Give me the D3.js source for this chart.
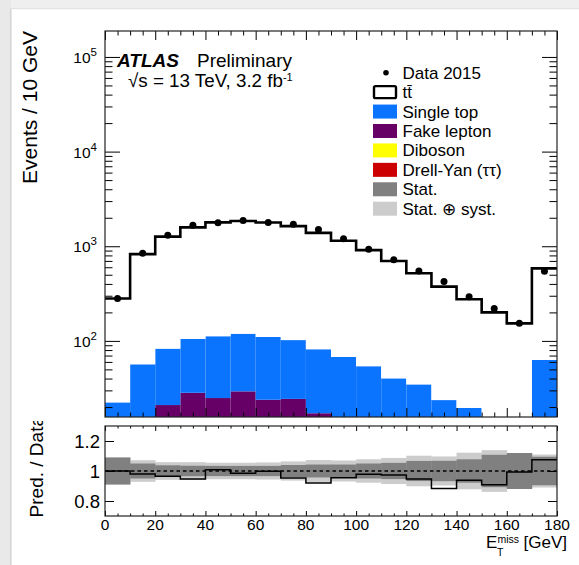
<!DOCTYPE html>
<html><head><meta charset="utf-8">
<script src="https://cdn.jsdelivr.net/npm/d3@7/dist/d3.min.js"></script>
<style>
body{margin:0;background:#fff}
svg{display:block}
text{font-family:"Liberation Sans",Arial,Helvetica,sans-serif;fill:#000}
</style>
</head><body>
<svg id="c" width="579" height="565"></svg>
<script>
// ---- data ----
const binEdges = [0,10,20,30,40,50,60,70,80,90,100,110,120,130,140,150,160,170,180];
const data2015 = [280,843,1309,1670,1771,1873,1783,1711,1503,1197,930,718,548,423,293,220,154,543];
const ttbar    = [257.6,769.4,1180.2,1476,1675,1726,1669,1529,1301.4,1076.4,856,658.8,484.3,350.3,255.4,188,143,521];
const singleTop= [12.4,44.6,61.8,76.7,87.1,89.7,86.1,77.6,64.4,55.6,45,33.2,29.7,19.7,16.6,10,8,55];
const fakeLepton=[6.5,8.0,17.0,24.3,21.1,25.6,20.5,21.3,14.4,9.5,6.7,5.0,3.2,2.5,1.7,0.9,1.0,4.2];
const diboson  = [2.0,2.5,2.8,3.0,3.0,3.0,2.8,2.6,2.4,2.2,2.0,1.8,1.6,1.4,1.2,1.0,0.9,3.5];
const drellYan = [1.5,1.5,1.2,1.0,0.8,0.7,0.6,0.5,0.4,0.3,0.3,0.2,0.2,0.1,0.1,0.1,0.1,0.3];
const statErr  = [0.09,0.05,0.038,0.035,0.034,0.034,0.034,0.04,0.043,0.043,0.05,0.054,0.067,0.068,0.078,0.108,0.12,0.095];
const totErr   = [0.09,0.072,0.059,0.059,0.055,0.055,0.057,0.064,0.073,0.07,0.078,0.087,0.102,0.097,0.122,0.139,0.12,0.11];
const logTicks = [100,1000,10000,100000];
const logTickExp = ["2","3","4","5"];
const xTicks = [0,20,40,60,80,100,120,140,160,180];
const ratioTicks = [0.8,1,1.2];
const ratioTickLabels = ["0.8","1","1.2"];

const legendItems = [
  {label:"Data 2015", type:"dot"},
  {label:"tt\u0304", type:"tt"},
  {label:"Single top", color:"#0a74ff"},
  {label:"Fake lepton", color:"#660066"},
  {label:"Diboson", color:"#ffff00"},
  {label:"Drell-Yan (\u03c4\u03c4)", color:"#cc0000"},
  {label:"Stat.", color:"#808080"},
  {label:"Stat. \u2295 syst.", color:"#cccccc"}
];
const stackKeys = ["dy","diboson","fake","single","ttbar"];
const stackColors = {dy:"#cc0000",diboson:"#ffff00",fake:"#660066",single:"#0a74ff",ttbar:"#ffffff"};

// ---- layout ----
const L=105, R=557, T=31, B=417, RT=426, RB=516;
const svg = d3.select("#c");

// shadow frame
svg.append("rect").attr("x",0).attr("y",0).attr("width",579).attr("height",9).attr("fill","#efefef");
svg.append("rect").attr("x",0).attr("y",0).attr("width",11).attr("height",565).attr("fill","#e9e9e9");
svg.append("rect").attr("x",10).attr("y",9).attr("width",1.5).attr("height",556).attr("fill","#d4d4d4");
svg.append("rect").attr("x",10).attr("y",8).attr("width",569).attr("height",1.2).attr("fill","#e2e2e2");

const x = d3.scaleLinear().domain([0,180]).range([L,R]);
const y = d3.scaleLog().domain([15.7,1.88e5]).range([B,T]);
const yr = d3.scaleLinear().domain([0.7,1.3]).range([RB,RT]);

const defs = svg.append("defs");
defs.append("clipPath").attr("id","clipMain").append("rect").attr("x",L).attr("y",T).attr("width",R-L).attr("height",B-T);
defs.append("clipPath").attr("id","clipRatio").append("rect").attr("x",L).attr("y",RT).attr("width",R-L).attr("height",RB-RT);
defs.append("clipPath").attr("id","clipRatioLabel").append("rect").attr("x",0).attr("y",421).attr("width",100).attr("height",144);

// ---- stack ----
const rows = binEdges.slice(0,-1).map((lo,i)=>({lo, hi:binEdges[i+1], dy:drellYan[i], diboson:diboson[i], fake:fakeLepton[i], single:singleTop[i], ttbar:ttbar[i]}));
const series = d3.stack().keys(stackKeys)(rows);
const gMain = svg.append("g").attr("clip-path","url(#clipMain)");
const ymin = y.domain()[0];
series.forEach(s=>{
  gMain.append("g").selectAll("rect").data(s).join("rect")
    .attr("x",d=>x(d.data.lo)).attr("width",d=>x(d.data.hi)-x(d.data.lo))
    .attr("y",d=>y(Math.max(d[1],ymin*0.5)))
    .attr("height",d=>Math.max(0, y(Math.max(d[0],ymin*0.5)) - y(Math.max(d[1],ymin*0.5))))
    .attr("fill",stackColors[s.key]);
});
const totals = rows.map(r=>stackKeys.reduce((a,k)=>a+r[k],0));
const stepPts = binEdges.map((e,i)=>[e, totals[Math.min(i,totals.length-1)]]);
gMain.append("path").datum(stepPts)
  .attr("d", d3.line().x(d=>x(d[0])).y(d=>y(d[1])).curve(d3.curveStepAfter))
  .attr("fill","none").attr("stroke","#000").attr("stroke-width",2.6);
gMain.append("g").selectAll("circle").data(data2015).join("circle")
  .attr("cx",(d,i)=>x((binEdges[i]+binEdges[i+1])/2)).attr("cy",d=>y(d)).attr("r",3.5).attr("fill","#000");

// ---- main axes ----
function minorLog(){
  const out=[];
  for(let d=1; d<=5; d++) for(let m=1;m<=9;m++){const v=m*Math.pow(10,d); if(v>=y.domain()[0]&&v<=y.domain()[1]) out.push(v);}
  return out;
}
const minorY = minorLog().filter(v=>!logTicks.includes(v));
const xMinor = d3.range(0,181,5).filter(v=>!xTicks.includes(v));
function tickAxis(g, gen){ g.call(gen); g.select(".domain").remove(); g.selectAll("text").remove(); g.selectAll("line").attr("stroke","#000").attr("stroke-width",1); }
const ax = svg.append("g");
tickAxis(ax.append("g").attr("transform",`translate(${L},0)`), d3.axisLeft(y).tickValues(logTicks).tickSize(-15));
tickAxis(ax.append("g").attr("transform",`translate(${L},0)`), d3.axisLeft(y).tickValues(minorY).tickSize(-7.5));
tickAxis(ax.append("g").attr("transform",`translate(${R},0)`), d3.axisRight(y).tickValues(logTicks).tickSize(-15));
tickAxis(ax.append("g").attr("transform",`translate(${R},0)`), d3.axisRight(y).tickValues(minorY).tickSize(-7.5));
tickAxis(ax.append("g").attr("transform",`translate(0,${B})`), d3.axisBottom(x).tickValues(xTicks).tickSize(-9));
tickAxis(ax.append("g").attr("transform",`translate(0,${B})`), d3.axisBottom(x).tickValues(xMinor).tickSize(-4.5));
tickAxis(ax.append("g").attr("transform",`translate(0,${T})`), d3.axisTop(x).tickValues(xTicks).tickSize(-9));
tickAxis(ax.append("g").attr("transform",`translate(0,${T})`), d3.axisTop(x).tickValues(xMinor).tickSize(-4.5));
svg.append("rect").attr("x",L).attr("y",T).attr("width",R-L).attr("height",B-T).attr("fill","none").attr("stroke","#222").attr("stroke-width",1.2);

logTicks.forEach((v,i)=>{
  const t = svg.append("text").attr("x",97).attr("y",y(v)+6).attr("text-anchor","end").attr("font-size",15.5);
  t.append("tspan").text("10");
  t.append("tspan").attr("dy",-7).attr("font-size",11.5).text(logTickExp[i]);
});
svg.append("text").attr("transform",`translate(36.5,${T}) rotate(-90)`).attr("text-anchor","end").attr("font-size",21).text("Events / 10 GeV");

// ATLAS label
const at = svg.append("text").attr("x",117).attr("y",67).attr("font-size",19);
at.append("tspan").attr("font-weight","bold").attr("font-style","italic").text("ATLAS");
at.append("tspan").attr("x",197).text("Preliminary");
const en = svg.append("text").attr("x",128).attr("y",86.5).attr("font-size",18.8);
en.append("tspan").text("\u221As = 13 TeV, 3.2 fb");
en.append("tspan").attr("dy",-5.5).attr("font-size",11).text("-1");

// legend
const lg = svg.append("g");
legendItems.forEach((d,i)=>{
  const cy = 72.7 + i*19.43;
  if(d.type==="dot"){
    lg.append("circle").attr("cx",386).attr("cy",cy).attr("r",2.8).attr("fill","#000");
  } else if(d.type==="tt"){
    lg.append("rect").attr("x",374).attr("y",cy-6).attr("width",22).attr("height",12).attr("fill","#fff").attr("stroke","#000").attr("stroke-width",2.4).attr("rx",1.5);
  } else {
    lg.append("rect").attr("x",373).attr("y",cy-7).attr("width",24).attr("height",14).attr("fill",d.color);
  }
  lg.append("text").attr("x",402.5).attr("y",cy+6).attr("font-size",17).text(d.label);
});

// ---- ratio panel ----
const gR = svg.append("g").attr("clip-path","url(#clipRatio)");
const bins = rows.map((r,i)=>({lo:r.lo,hi:r.hi,stat:statErr[i],tot:totErr[i],ratio:totals[i]/data2015[i]}));
gR.append("g").selectAll("rect").data(bins).join("rect")
  .attr("x",d=>x(d.lo)).attr("width",d=>x(d.hi)-x(d.lo)+0.3)
  .attr("y",d=>yr(1+d.tot)).attr("height",d=>yr(1-d.tot)-yr(1+d.tot)).attr("fill","#cccccc");
gR.append("g").selectAll("rect").data(bins).join("rect")
  .attr("x",d=>x(d.lo)).attr("width",d=>x(d.hi)-x(d.lo)+0.3)
  .attr("y",d=>yr(1+d.stat)).attr("height",d=>yr(1-d.stat)-yr(1+d.stat)).attr("fill","#808080");
gR.append("line").attr("x1",L).attr("x2",R).attr("y1",yr(1)).attr("y2",yr(1))
  .attr("stroke","#000").attr("stroke-width",1.4).attr("stroke-dasharray","3.5,3");
const rPts = binEdges.map((e,i)=>[e, bins[Math.min(i,bins.length-1)].ratio]);
gR.append("path").datum(rPts)
  .attr("d", d3.line().x(d=>x(d[0])).y(d=>yr(d[1])).curve(d3.curveStepAfter))
  .attr("fill","none").attr("stroke","#000").attr("stroke-width",1.5);

const axr = svg.append("g");
tickAxis(axr.append("g").attr("transform",`translate(${L},0)`), d3.axisLeft(yr).tickValues(ratioTicks).tickSize(-9));
tickAxis(axr.append("g").attr("transform",`translate(${R},0)`), d3.axisRight(yr).tickValues(ratioTicks).tickSize(-9));
tickAxis(axr.append("g").attr("transform",`translate(0,${RB})`), d3.axisBottom(x).tickValues(xTicks).tickSize(-5));
tickAxis(axr.append("g").attr("transform",`translate(0,${RB})`), d3.axisBottom(x).tickValues(xMinor).tickSize(-2.5));
tickAxis(axr.append("g").attr("transform",`translate(0,${RT})`), d3.axisTop(x).tickValues(xTicks).tickSize(-5));
tickAxis(axr.append("g").attr("transform",`translate(0,${RT})`), d3.axisTop(x).tickValues(xMinor).tickSize(-2.5));
svg.append("rect").attr("x",L).attr("y",RT).attr("width",R-L).attr("height",RB-RT).attr("fill","none").attr("stroke","#222").attr("stroke-width",1.2);

ratioTicks.forEach((v,i)=>{
  svg.append("text").attr("x",100).attr("y",yr(v)+6.5).attr("text-anchor","end").attr("font-size",18.5).text(ratioTickLabels[i]);
});
xTicks.forEach(v=>{
  svg.append("text").attr("x",x(v)).attr("y",530).attr("text-anchor","middle").attr("font-size",15.5).text(v);
});
svg.append("g").attr("clip-path","url(#clipRatioLabel)")
  .append("text").attr("transform",`translate(43,416) rotate(-90)`).attr("text-anchor","end").attr("font-size",19).text("Pred. / Data");

// x title (single text element)
const xt = svg.append("text").attr("x",486).attr("y",548).attr("font-size",17);
xt.append("tspan").text("E");
xt.append("tspan").attr("x",497).attr("dy",7.5).attr("font-size",10.5).text("T");
xt.append("tspan").attr("x",497.5).attr("dy",-12.5).attr("font-size",10.5).text("miss");
xt.append("tspan").attr("x",523.5).attr("dy",5).text("[GeV]");
</script>
</body></html>
